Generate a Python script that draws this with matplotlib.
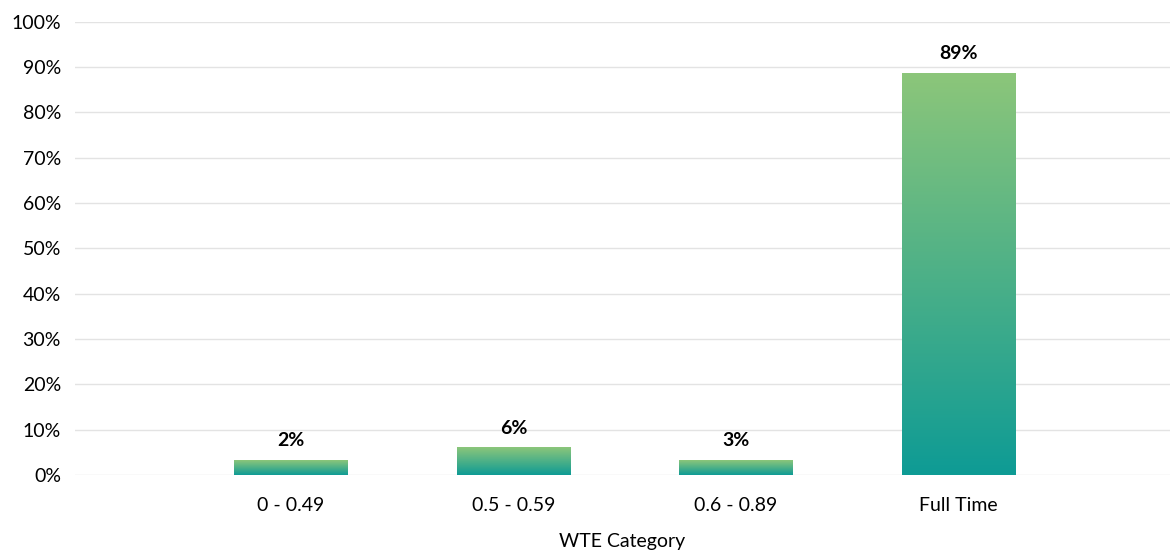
import matplotlib
matplotlib.use("Agg")
import matplotlib.pyplot as plt
import numpy as np
from matplotlib.colors import LinearSegmentedColormap

categories = ["0 - 0.49", "0.5 - 0.59", "0.6 - 0.89", "Full Time"]
values = [3.3, 6.0, 3.3, 88.7]
labels = ["2%", "6%", "3%", "89%"]
yticks = list(range(0, 101, 10))

plt.rcParams['font.family'] = ['Lato', 'DejaVu Sans']

fig = plt.figure(figsize=(11.7, 5.56), dpi=100)
ax = fig.add_axes([0.064, 0.146, 0.936, 0.815])

cmap = LinearSegmentedColormap.from_list("g", ["#0e9b95", "#8cc67a"])
grad = np.linspace(0, 1, 256).reshape(-1, 1)

x = np.arange(len(categories))
width = 0.51
bars = ax.bar(x, values, width=width, color="none", zorder=2)
for b, lab in zip(bars, labels):
    x0, h = b.get_x(), b.get_height()
    ax.imshow(grad, cmap=cmap, origin="lower", aspect="auto",
              extent=[x0, x0 + width, 0, h], zorder=2)
    ax.text(x0 + width / 2, h + 2.4, lab, ha="center", va="bottom",
            fontsize=14, fontweight="bold", color="black")

ax.set_xlim(-0.97, 3.95)
ax.set_ylim(0, 100)
ax.set_yticks(yticks)
ax.set_yticklabels([f"{t}%" for t in yticks], fontsize=14)
ax.set_xticks(x)
ax.set_xticklabels(categories, fontsize=14)
ax.tick_params(axis="x", length=0, pad=16)
ax.tick_params(axis="y", length=0, pad=10)
ax.grid(axis="y", color="#e3e3e3", linewidth=1, zorder=0)
ax.set_axisbelow(True)
for s in ax.spines.values():
    s.set_visible(False)
ax.set_xlabel("WTE Category", fontsize=14, labelpad=14)

fig.savefig("out.png", dpi=100)
